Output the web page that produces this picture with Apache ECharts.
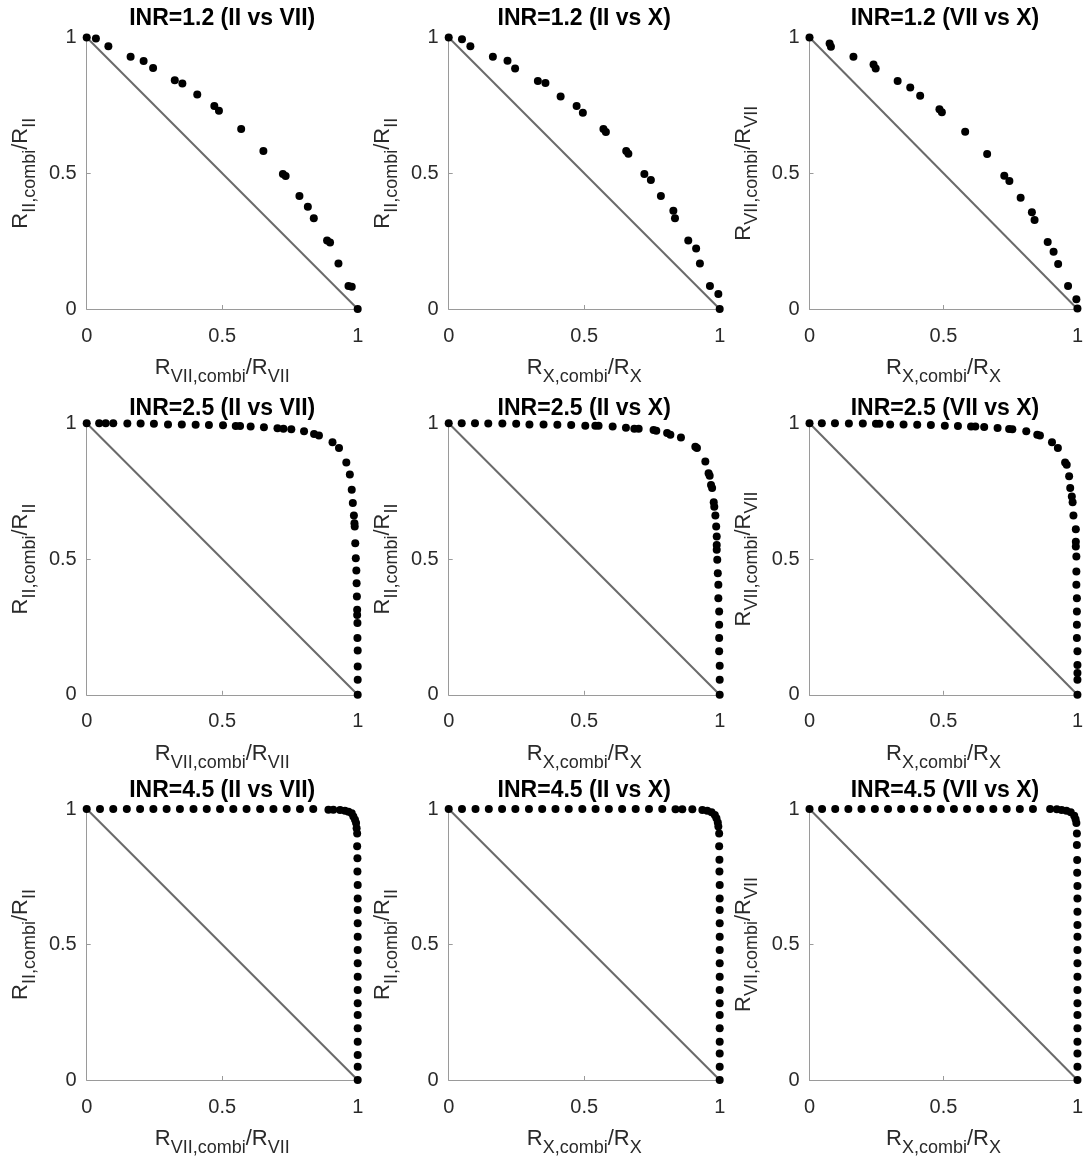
<!DOCTYPE html>
<html>
<head>
<meta charset="utf-8">
<title>Normalized combined rates</title>
<script src="https://cdn.jsdelivr.net/npm/echarts@6/dist/echarts.min.js"></script>
<style>
  html, body { margin: 0; padding: 0; background: #ffffff; }
  #chart { width: 1086px; height: 1158px; }
</style>
</head>
<body>
<div id="chart"></div>
<script>
// Normalized rates: [x, y] pairs for each INR level and factor pair
const inr12_II_VII = [[0,1],[0.034,0.996],[0.08,0.968],[0.162,0.929],[0.21,0.913],[0.245,0.888],[0.325,0.843],[0.353,0.831],[0.408,0.79],[0.471,0.748],[0.488,0.73],[0.57,0.663],[0.652,0.582],[0.724,0.497],[0.734,0.49],[0.785,0.416],[0.816,0.377],[0.838,0.334],[0.887,0.252],[0.898,0.245],[0.929,0.168],[0.966,0.085],[0.978,0.082],[1,0]];
const inr12_II_X = [[0,1],[0.049,0.994],[0.08,0.968],[0.163,0.929],[0.217,0.914],[0.245,0.886],[0.329,0.84],[0.357,0.832],[0.413,0.783],[0.472,0.748],[0.495,0.723],[0.571,0.663],[0.58,0.652],[0.655,0.582],[0.663,0.572],[0.722,0.497],[0.746,0.475],[0.783,0.416],[0.829,0.362],[0.835,0.334],[0.884,0.252],[0.913,0.223],[0.927,0.168],[0.964,0.085],[0.995,0.055],[1,0]];
const inr12_VII_X = [[0,1],[0.075,0.978],[0.08,0.966],[0.164,0.929],[0.239,0.901],[0.247,0.886],[0.329,0.84],[0.376,0.816],[0.413,0.785],[0.485,0.736],[0.494,0.725],[0.581,0.653],[0.663,0.571],[0.727,0.491],[0.746,0.471],[0.788,0.41],[0.83,0.356],[0.84,0.328],[0.889,0.247],[0.911,0.211],[0.928,0.166],[0.965,0.085],[0.996,0.036],[1,0.002]];

const inr25_II_VII = [[0,1],[0.046,1],[0.07,1],[0.098,1],[0.15,0.999],[0.199,0.999],[0.248,0.998],[0.3,0.996],[0.351,0.996],[0.402,0.995],[0.451,0.994],[0.503,0.993],[0.55,0.99],[0.566,0.99],[0.605,0.988],[0.654,0.985],[0.704,0.982],[0.726,0.98],[0.755,0.978],[0.802,0.971],[0.839,0.961],[0.857,0.955],[0.907,0.93],[0.931,0.909],[0.958,0.856],[0.971,0.811],[0.978,0.755],[0.982,0.706],[0.986,0.66],[0.988,0.632],[0.989,0.62],[0.991,0.558],[0.993,0.503],[0.995,0.458],[0.996,0.411],[0.997,0.362],[0.998,0.313],[0.998,0.294],[0.999,0.264],[0.999,0.209],[1,0.163],[1,0.104],[1,0.055],[1,0]];
const inr25_II_X = [[0,1],[0.048,1],[0.097,1],[0.146,0.999],[0.198,0.999],[0.249,0.998],[0.298,0.996],[0.35,0.996],[0.401,0.995],[0.452,0.994],[0.504,0.991],[0.541,0.991],[0.553,0.991],[0.605,0.988],[0.654,0.984],[0.685,0.98],[0.701,0.98],[0.756,0.975],[0.766,0.973],[0.806,0.964],[0.818,0.958],[0.857,0.948],[0.91,0.914],[0.916,0.909],[0.947,0.859],[0.959,0.816],[0.963,0.807],[0.968,0.773],[0.972,0.762],[0.978,0.709],[0.98,0.693],[0.984,0.66],[0.987,0.62],[0.989,0.583],[0.989,0.552],[0.989,0.534],[0.991,0.497],[0.993,0.448],[0.995,0.405],[0.995,0.356],[0.998,0.307],[0.998,0.258],[0.998,0.209],[0.998,0.16],[1,0.107],[1,0.055],[1,0]];
const inr25_VII_X = [[0,1],[0.046,1],[0.095,1],[0.147,0.999],[0.199,0.999],[0.248,0.998],[0.261,0.998],[0.301,0.996],[0.351,0.996],[0.402,0.995],[0.453,0.994],[0.505,0.991],[0.554,0.99],[0.603,0.988],[0.619,0.988],[0.652,0.986],[0.702,0.983],[0.745,0.979],[0.757,0.978],[0.809,0.971],[0.85,0.958],[0.86,0.955],[0.905,0.93],[0.927,0.909],[0.954,0.856],[0.96,0.847],[0.969,0.805],[0.973,0.762],[0.979,0.73],[0.982,0.709],[0.985,0.66],[0.994,0.61],[0.994,0.564],[0.994,0.546],[0.996,0.509],[0.996,0.454],[0.996,0.405],[0.998,0.356],[0.998,0.307],[0.998,0.258],[0.998,0.209],[1,0.16],[1,0.11],[1,0.08],[1,0.055],[1,0]];

const inr45_II_VII = [[0,1],[0.049,1],[0.098,1],[0.148,1],[0.197,1],[0.246,1],[0.295,1],[0.344,1],[0.394,1],[0.443,1],[0.492,1],[0.541,1],[0.59,1],[0.64,1],[0.689,1],[0.738,1],[0.787,1],[0.836,1],[0.892,0.997],[0.91,0.997],[0.935,0.996],[0.953,0.994],[0.966,0.99],[0.978,0.984],[0.984,0.972],[0.99,0.96],[0.994,0.948],[0.996,0.929],[0.998,0.91],[0.998,0.863],[0.999,0.818],[0.999,0.769],[1,0.72],[1,0.67],[1,0.627],[1,0.578],[1,0.529],[1,0.48],[1,0.431],[1,0.381],[1,0.332],[1,0.283],[1,0.24],[1,0.191],[1,0.141],[1,0.092],[1,0.049],[1,0]];
const inr45_II_X = [[0,1],[0.049,1],[0.099,1],[0.148,1],[0.197,1],[0.246,1],[0.296,1],[0.345,1],[0.394,1],[0.443,1],[0.493,1],[0.542,1],[0.591,1],[0.64,1],[0.69,1],[0.739,1],[0.788,1],[0.837,0.999],[0.862,0.999],[0.899,0.999],[0.936,0.996],[0.954,0.994],[0.97,0.988],[0.982,0.978],[0.988,0.966],[0.993,0.95],[0.995,0.935],[0.998,0.91],[0.998,0.863],[0.999,0.813],[0.999,0.769],[1,0.72],[1,0.67],[1,0.627],[1,0.578],[1,0.529],[1,0.48],[1,0.431],[1,0.381],[1,0.332],[1,0.283],[1,0.24],[1,0.191],[1,0.141],[1,0.098],[1,0.049],[1,0]];
const inr45_VII_X = [[0,1],[0.047,1],[0.096,1],[0.145,1],[0.194,1],[0.244,1],[0.293,1],[0.342,1],[0.391,1],[0.44,1],[0.49,1],[0.539,1],[0.588,1],[0.637,1],[0.686,1],[0.736,1],[0.785,1],[0.834,1],[0.898,1],[0.923,0.999],[0.941,0.996],[0.959,0.994],[0.975,0.988],[0.988,0.975],[0.993,0.962],[0.996,0.948],[0.998,0.91],[0.998,0.867],[0.999,0.812],[0.999,0.765],[1,0.716],[1,0.67],[1,0.621],[1,0.572],[1,0.529],[1,0.48],[1,0.431],[1,0.381],[1,0.332],[1,0.283],[1,0.24],[1,0.191],[1,0.141],[1,0.098],[1,0.049],[1,0]];

// Reference line of pure additivity
const additiveLine = [[0,1],[1,0]];

// Panel titles and axis names (rich text for subscripts)
const panelTitles = [
  'INR=1.2 (II vs VII)', 'INR=1.2 (II vs X)', 'INR=1.2 (VII vs X)',
  'INR=2.5 (II vs VII)', 'INR=2.5 (II vs X)', 'INR=2.5 (VII vs X)',
  'INR=4.5 (II vs VII)', 'INR=4.5 (II vs X)', 'INR=4.5 (VII vs X)'
];
const xAxisNames = [
  '{m|R}{s|VII,combi}{m|/R}{s|VII}',
  '{m|R}{s|X,combi}{m|/R}{s|X}',
  '{m|R}{s|X,combi}{m|/R}{s|X}'
];
const yAxisNames = [
  '{m|R}{s|II,combi}{m|/R}{s|II}',
  '{m|R}{s|II,combi}{m|/R}{s|II}',
  '{m|R}{s|VII,combi}{m|/R}{s|VII}'
];
const tickValues = [0, 0.5, 1];
const tickLabels = ['0', '0.5', '1'];

const panelData = [
  inr12_II_VII, inr12_II_X, inr12_VII_X,
  inr25_II_VII, inr25_II_X, inr25_VII_X,
  inr45_II_VII, inr45_II_X, inr45_VII_X
];

// Layout of the 3x3 grid (pixels)
const colLeft = [86.7, 448.7, 809.5];
const rowTop = [37.5, 423.3, 809];
const titleCenterY = [19.2, 410, 792];
const plotW = 271;
const plotH = 271.5;

const FONT = "'Liberation Sans', Arial, Helvetica, sans-serif";
const AXIS_GRAY = '#9a9a9a';
const LINE_GRAY = '#6a6a6a';

const nameRich = {
  m: { fontSize: 22, fontFamily: FONT, color: '#2a2a2a' },
  s: { fontSize: 18, fontFamily: FONT, color: '#2a2a2a', padding: [18, 0, 0, 0] }
};

function tickFormatter(v) {
  const i = tickValues.indexOf(Math.round(v * 10) / 10);
  return i >= 0 ? tickLabels[i] : '';
}

const grids = [], xAxes = [], yAxes = [], series = [], titles = [];

for (let r = 0; r < 3; r++) {
  for (let c = 0; c < 3; c++) {
    const k = r * 3 + c;
    grids.push({ left: colLeft[c], top: rowTop[r], width: plotW, height: plotH, containLabel: false });

    titles.push({
      text: panelTitles[k],
      left: colLeft[c] + plotW / 2,
      top: titleCenterY[r] - 12.5,
      textAlign: 'center',
      padding: 0,
      textStyle: { fontFamily: FONT, fontSize: 23, fontWeight: 'bold', color: '#000' }
    });

    const axisCommon = {
      type: 'value', min: 0, max: 1, interval: 0.5,
      splitLine: { show: false },
      axisLine: { show: true, lineStyle: { color: AXIS_GRAY, width: 1 } },
      axisTick: { show: true, inside: true, length: 4, lineStyle: { color: AXIS_GRAY } },
      nameLocation: 'middle',
      nameTextStyle: { rich: nameRich }
    };

    xAxes.push(Object.assign({}, axisCommon, {
      gridIndex: k,
      name: xAxisNames[c],
      nameGap: 41,
      axisLabel: { margin: 17, fontSize: 20, fontFamily: FONT, color: '#2a2a2a', formatter: tickFormatter }
    }));
    yAxes.push(Object.assign({}, axisCommon, {
      gridIndex: k,
      name: yAxisNames[c],
      nameGap: 48,
      axisLabel: { margin: 10, fontSize: 20, fontFamily: FONT, color: '#2a2a2a', formatter: tickFormatter }
    }));

    series.push({
      type: 'line',
      xAxisIndex: k, yAxisIndex: k,
      data: additiveLine,
      symbol: 'none',
      lineStyle: { color: LINE_GRAY, width: 2 },
      silent: true,
      z: 2
    });
    series.push({
      type: 'scatter',
      xAxisIndex: k, yAxisIndex: k,
      data: panelData[k],
      symbol: 'circle',
      symbolSize: 8,
      itemStyle: { color: '#000', opacity: 1 },
      clip: false,
      silent: true,
      z: 3
    });
  }
}

const chart = echarts.init(document.getElementById('chart'), null, { renderer: 'canvas' });
chart.setOption({
  backgroundColor: '#ffffff',
  animation: false,
  title: titles,
  grid: grids,
  xAxis: xAxes,
  yAxis: yAxes,
  series: series
});
</script>
</body>
</html>
